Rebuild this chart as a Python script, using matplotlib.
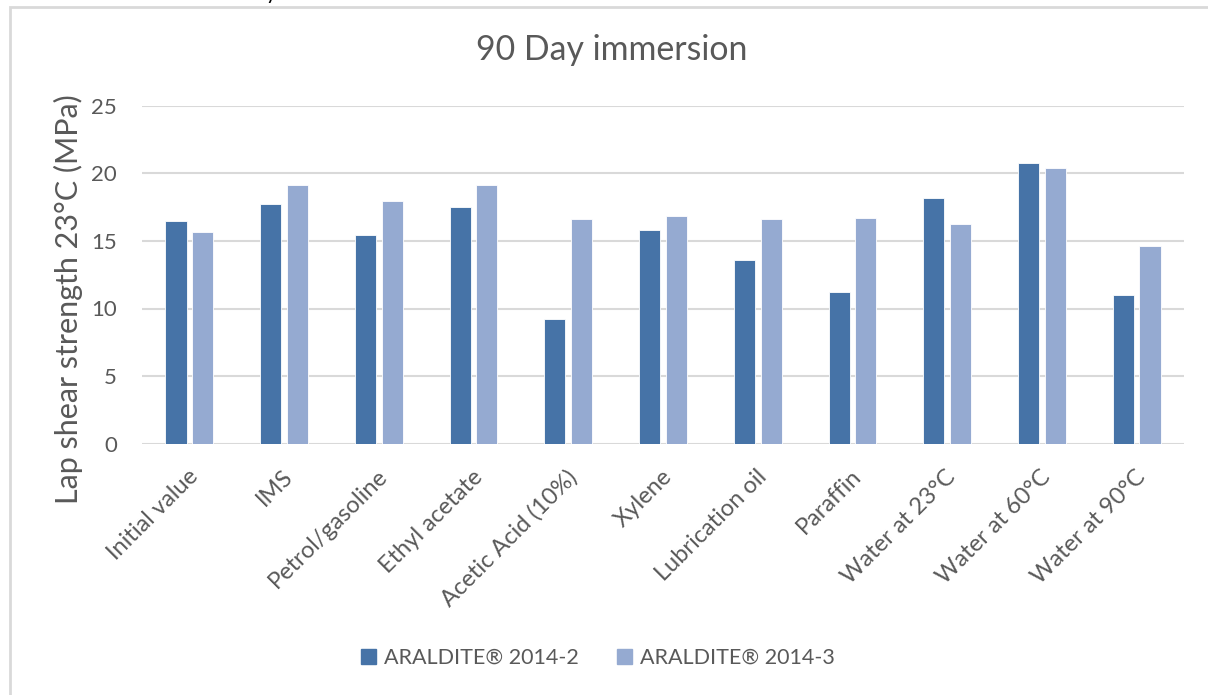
import matplotlib
matplotlib.use("Agg")
import matplotlib.pyplot as plt
import matplotlib.patches as mpatches
import matplotlib.transforms as mtransforms
import numpy as np

categories = ["Initial value", "IMS", "Petrol/gasoline", "Ethyl acetate", "Acetic Acid (10%)",
              "Xylene", "Lubrication oil", "Paraffin", "Water at 23°C", "Water at 60°C", "Water at 90°C"]
series_2014_2 = [16.5, 17.7, 15.4, 17.5, 9.2, 15.8, 13.6, 11.2, 18.15, 20.75, 11.0]
series_2014_3 = [15.65, 19.1, 17.95, 19.1, 16.65, 16.85, 16.6, 16.7, 16.25, 20.4, 14.65]
series_names = ["ARALDITE® 2014-2", "ARALDITE® 2014-3"]
yticks = [0, 5, 10, 15, 20, 25]
title = "90 Day immersion"
ylabel = "Lap shear strength 23°C (MPa)"

FONT = ["Lato", "DejaVu Sans"]
plt.rcParams['font.family'] = FONT
TXT = "#595959"
C1 = "#4673A7"
C2 = "#95AAD1"
GRID = "#D9D9D9"

W, H = 1208, 695
fig = plt.figure(figsize=(W / 100, H / 100), dpi=100)
ax = fig.add_axes([142 / W, 1 - 443.7 / H, (1184 - 142) / W, (443.7 - 105.7) / H])

x = np.arange(len(categories))
bw = 0.222
off = 0.141
ax.bar(x - off, series_2014_2, bw, color=C1, edgecolor="white", linewidth=0.6, label=series_names[0], zorder=3)
ax.bar(x + off, series_2014_3, bw, color=C2, edgecolor="white", linewidth=0.6, label=series_names[1], zorder=3)

ax.set_xlim(-0.5, len(categories) - 0.5)
ax.set_ylim(0, 25)
ax.set_yticks(yticks)
ax.yaxis.grid(True, color=GRID, linewidth=1.5, zorder=0)
ax.set_axisbelow(True)
for s in ax.spines.values():
    s.set_visible(False)
ax.tick_params(axis='both', length=0, colors=TXT)
ax.tick_params(axis='y', pad=18, labelsize=16)
ax.set_xticks(x)
ax.set_xticklabels(categories, rotation=45, ha='right', rotation_mode='anchor', fontsize=17)
ax.tick_params(axis='x', pad=16)
shift = mtransforms.ScaledTranslation(-2 / 100, 0, fig.dpi_scale_trans)
for lbl in ax.get_xticklabels():
    lbl.set_transform(lbl.get_transform() + shift)

fig.text(612 / W, 1 - 50 / H, title, ha='center', va='center', fontsize=24.4, color=TXT)
fig.text(68 / W, 1 - 299 / H, ylabel, ha='center', va='center', rotation=90, fontsize=22, color=TXT)

# border
fig.patches.append(mpatches.Rectangle((10 / W, -0.1), 1.2, 1 - 7 / H + 0.1, transform=fig.transFigure,
                                      fill=False, edgecolor=GRID, linewidth=2))
# clipped fragment at top
fig.text(266 / W, 1 + 1 / H, "y", ha='left', va='baseline', fontsize=15, color="#000000")

h1 = mpatches.Patch(color=C1)
h2 = mpatches.Patch(color=C2)
fig.legend([h1, h2], series_names, loc='center', bbox_to_anchor=(598 / W, 1 - 658 / H), ncol=2,
           frameon=False, fontsize=15.5, labelcolor=TXT, handlelength=0.7, handleheight=0.7,
           handletextpad=0.35, columnspacing=1.8)

fig.savefig("out.png", dpi=100)
